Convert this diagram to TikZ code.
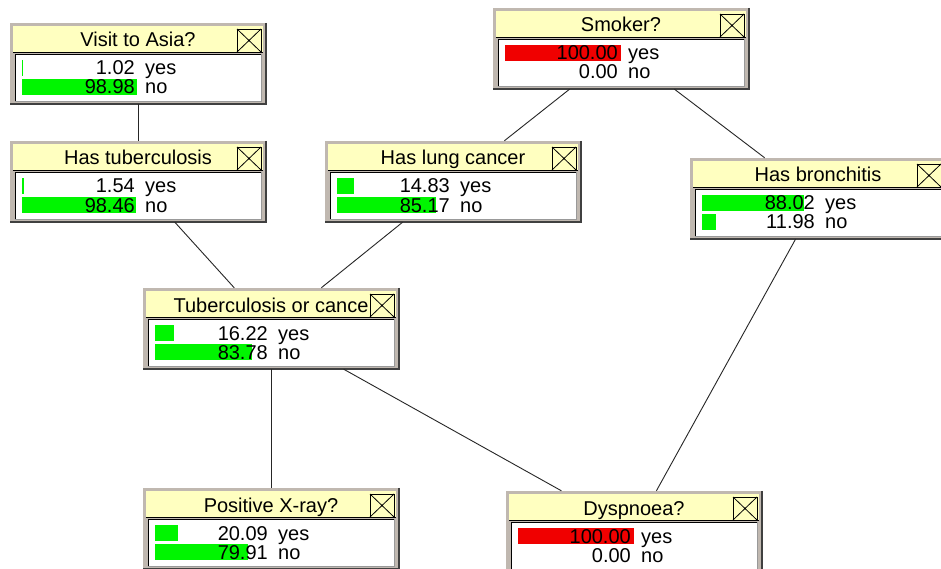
\documentclass[tikz,border=0pt]{standalone}
\usepackage{fontspec}
\setmainfont{Liberation Sans}
\usepackage{tikz}
\usetikzlibrary{calc}

\definecolor{framegray}{RGB}{192,184,176}
\definecolor{titleyellow}{RGB}{255,255,192}
\definecolor{bargreen}{RGB}{0,245,0}
\definecolor{barred}{RGB}{240,0,0}

\tikzset{
  nodeframe/.style={rectangle,fill=framegray,minimum width=256pt,minimum height=81pt,inner sep=0pt},
  shadowline/.style={draw=black!75,line width=1.5pt},
  titlebar/.style={fill=titleyellow},
  closebox/.style={draw=black,fill=titleyellow,line width=0.8pt},
  titletext/.style={anchor=base,inner sep=0pt,font=\fontsize{20}{24}\selectfont},
  valtext/.style={anchor=base east,inner sep=0pt,font=\fontsize{20}{24}\selectfont},
  statetext/.style={anchor=base west,inner sep=0pt,font=\fontsize{20}{24}\selectfont},
  link/.style={draw=black!85,line width=0.9pt}
}

% #1 name, #2 left, #3 top, #4 title, #5 yes, #6 no, #7 colour of the yes bar
\newcommand{\beliefnode}[7]{%
  \begin{scope}[shift={(#2,#3)}]
    \node[nodeframe] (#1) at (128,40.5) {};
    \draw[shadowline] (#1.north east) -- (#1.south east) -- (#1.south west);
    \fill[titlebar] (3,3) rectangle (253,29);
    \draw[black] (3,29.5) -- (253,29.5);
    \node[titletext] at (128,24) {#4};
    \draw[closebox] (227,6) rectangle (251,29);
    \draw[black,line width=0.8pt] (227,6) -- (251,29) (227,29) -- (251,6);
    \fill[white] (5,31) rectangle (251,78);
    \draw[black] (5,78) -- (5,31) -- (251,31);
    \draw[black!40] (251,31) -- (251,78) -- (5,78);
    \ifdim #5pt>0pt \fill[#7] (12,37) rectangle ++(1.16*#5,16); \fi
    \ifdim #6pt>0pt \fill[bargreen] (12,56) rectangle ++(1.16*#6,16); \fi
    \node[valtext] at (125,52) {#5};
    \node[statetext] at (135,52) {yes};
    \node[valtext] at (125,71) {#6};
    \node[statetext] at (135,71) {no};
  \end{scope}}

\begin{document}
\begin{tikzpicture}[x=1pt,y=-1pt]
  \useasboundingbox (0,0) rectangle (941,569);
  \clip (0,0) rectangle (941,569);
  \fill[white] (0,0) rectangle (941,569);

  \beliefnode{asia}{10}{23}{Visit to Asia?}{1.02}{98.98}{bargreen}
  \beliefnode{smoke}{493}{8}{Smoker?}{100.00}{0.00}{barred}
  \beliefnode{tub}{10}{141}{Has tuberculosis}{1.54}{98.46}{bargreen}
  \beliefnode{lung}{325}{141}{Has lung cancer}{14.83}{85.17}{bargreen}
  \beliefnode{bronc}{690}{158}{Has bronchitis}{88.02}{11.98}{bargreen}
  \beliefnode{either}{143}{288}{Tuberculosis or cance}{16.22}{83.78}{bargreen}
  \beliefnode{xray}{143}{488}{Positive X-ray?}{20.09}{79.91}{bargreen}
  \beliefnode{dysp}{506}{491}{Dyspnoea?}{100.00}{0.00}{barred}

  % links between the nodes
  \draw[link] (asia) -- (tub);
  \draw[link] (smoke) -- (lung);
  \draw[link] (smoke) -- (bronc);
  \draw[link] (tub) -- (either);
  \draw[link] (lung) -- (either);
  \draw[link] (either) -- (xray);
  \draw[link] (either) -- (dysp);
  \draw[link] (bronc) -- (dysp);
\end{tikzpicture}
\end{document}
